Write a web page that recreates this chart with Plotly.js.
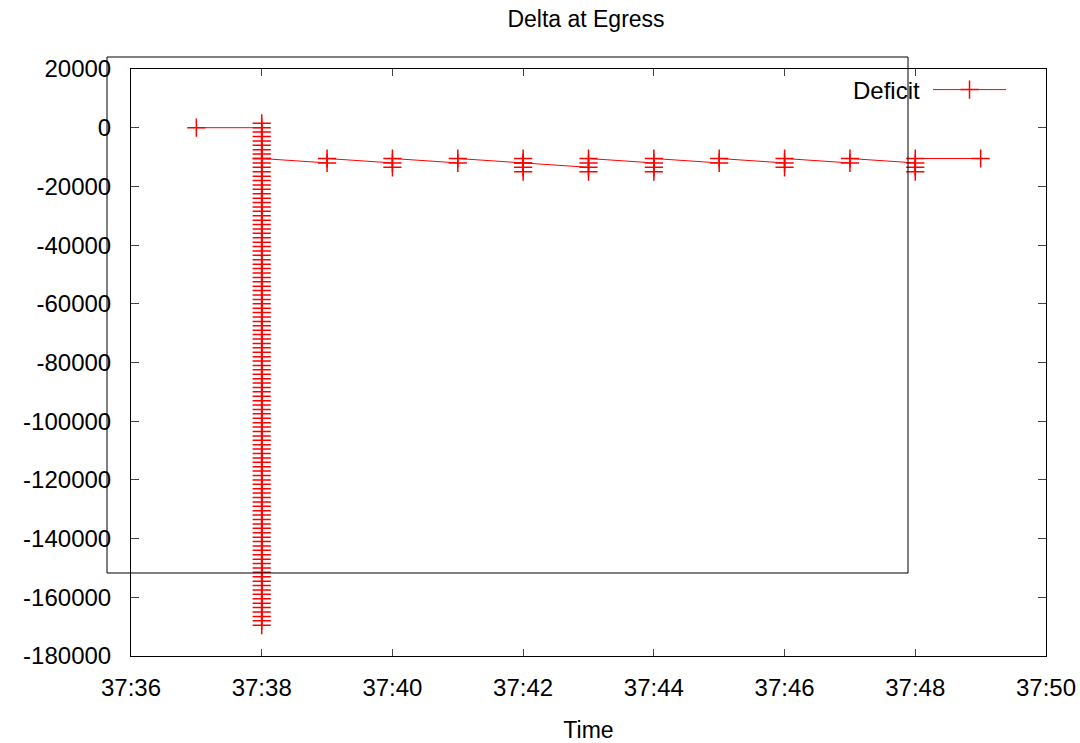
<!DOCTYPE html>
<html>
<head>
<meta charset="utf-8">
<script src="https://cdn.plot.ly/plotly-3.0.1.min.js"></script>
<style>html,body{margin:0;padding:0;background:#fff;}#chart{width:1080px;height:743px;}</style>
</head>
<body>
<div id="chart"></div>
<script>
// Sample times (mm:ss) and the deficit values recorded at each time
const times = ['37:37','37:38','37:39','37:40','37:41','37:42','37:43','37:44','37:45','37:46','37:47','37:48','37:49'];
const deficit_3737 = [0];
const deficit_3738 = [0, 1500,
  -1500, -3000, -4500, -6000, -7500, -9000, -10500, -12000, -13500, -15000,
  -16500, -18000, -19500, -21000, -22500, -24000, -25500, -27000, -28500, -30000,
  -31500, -33000, -34500, -36000, -37500, -39000, -40500, -42000, -43500, -45000,
  -46500, -48000, -49500, -51000, -52500, -54000, -55500, -57000, -58500, -60000,
  -61500, -63000, -64500, -66000, -67500, -69000, -70500, -72000, -73500, -75000,
  -76500, -78000, -79500, -81000, -82500, -84000, -85500, -87000, -88500, -90000,
  -91500, -93000, -94500, -96000, -97500, -99000, -100500, -102000, -103500, -105000,
  -106500, -108000, -109500, -111000, -112500, -114000, -115500, -117000, -118500, -120000,
  -121500, -123000, -124500, -126000, -127500, -129000, -130500, -132000, -133500, -135000,
  -136500, -138000, -139500, -141000, -142500, -144000, -145500, -147000, -148500, -150000,
  -151500, -153000, -154500, -156000, -157500, -159000, -160500, -162000, -163500, -165000,
  -166500, -168000, -169500,
  -10500];
const deficit_3739 = [-12000, -10500];
const deficit_3740 = [-12000, -13500, -10500];
const deficit_3741 = [-12000, -10500];
const deficit_3742 = [-12000, -10500, -13500, -15000, -12000];
const deficit_3743 = [-13500, -15000, -12000, -10500];
const deficit_3744 = [-12000, -13500, -15000, -10500];
const deficit_3745 = [-12000, -10500];
const deficit_3746 = [-12000, -13500, -10500];
const deficit_3747 = [-12000, -10500];
const deficit_3748 = [-12000, -13500, -15000, -10500];
const deficit_3749 = [-10500];
const deficitByTime = [deficit_3737, deficit_3738, deficit_3739, deficit_3740, deficit_3741, deficit_3742,
  deficit_3743, deficit_3744, deficit_3745, deficit_3746, deficit_3747, deficit_3748, deficit_3749];

const yTickVals = [20000, 0, -20000, -40000, -60000, -80000, -100000, -120000, -140000, -160000, -180000];
const yTickText = ['20000', '0', '-20000', '-40000', '-60000', '-80000', '-100000', '-120000', '-140000', '-160000', '-180000'];
const xRange = ['37:36', '37:50'];

const toDate = t => '2000-01-01 00:' + t;
const xs = [], ys = [];
times.forEach((t, i) => {
  deficitByTime[i].forEach(v => { xs.push(toDate(t)); ys.push(v); });
});

const FONT = '"Liberation Sans", Arial, Helvetica, sans-serif';

const trace = {
  x: xs, y: ys, type: 'scatter', mode: 'lines+markers', name: '',
  line: {color: '#ff0000', width: 1},
  marker: {symbol: 'cross-thin', size: 13, line: {color: '#ff0000', width: 1.5}, color: '#ff0000'},
  cliponaxis: false
};

const layout = {
  width: 1080, height: 743,
  paper_bgcolor: '#ffffff', plot_bgcolor: '#ffffff',
  margin: {l: 131, r: 34, t: 69, b: 87},
  font: {family: FONT, size: 24, color: '#000'},
  title: {text: 'Delta at Egress', font: {family: FONT, size: 23, color: '#000'},
    x: 586 / 1080, xref: 'container', xanchor: 'center', y: 1 - 19 / 743, yref: 'container', yanchor: 'middle'},
  xaxis: {
    type: 'date', range: [toDate(xRange[0]), toDate(xRange[1])],
    tickformat: '%M:%S', dtick: 2000, tick0: toDate(xRange[0]),
    showgrid: false, zeroline: false,
    showline: true, linecolor: '#000', linewidth: 1, mirror: 'ticks',
    ticks: 'inside', ticklen: 7, tickcolor: '#444', tickwidth: 1,
    tickfont: {family: FONT, size: 24, color: '#000'},
    ticklabelstandoff: 10,
    title: {text: 'Time', font: {family: FONT, size: 23, color: '#000'}, standoff: 24}
  },
  yaxis: {
    range: [-180000, 20000], tickmode: 'array', tickvals: yTickVals, ticktext: yTickText,
    showgrid: false, zeroline: false,
    showline: true, linecolor: '#000', linewidth: 1, mirror: 'ticks',
    ticks: 'inside', ticklen: 8, tickcolor: '#444', tickwidth: 1,
    tickfont: {family: FONT, size: 24, color: '#000'},
    ticklabelstandoff: 14
  },
  showlegend: true,
  legend: {
    x: (851 - 131) / 915, xanchor: 'left', y: (656 - 90) / 587, yanchor: 'middle',
    bgcolor: 'rgba(0,0,0,0)', borderwidth: 0, itemwidth: 73,
    font: {family: FONT, size: 24, color: '#000'},
    title: {text: 'Deficit', side: 'left', font: {family: FONT, size: 24, color: '#000'}}
  },
  shapes: [{
    type: 'rect', xref: 'paper', yref: 'paper',
    x0: (107 - 131) / 915, x1: (908 - 131) / 915,
    y0: (656 - 573) / 587, y1: (656 - 57) / 587,
    line: {color: '#000', width: 1}, fillcolor: 'rgba(0,0,0,0)', layer: 'above'
  }]
};

Plotly.newPlot('chart', [trace], layout, {displayModeBar: false, staticPlot: true});
</script>
</body>
</html>
